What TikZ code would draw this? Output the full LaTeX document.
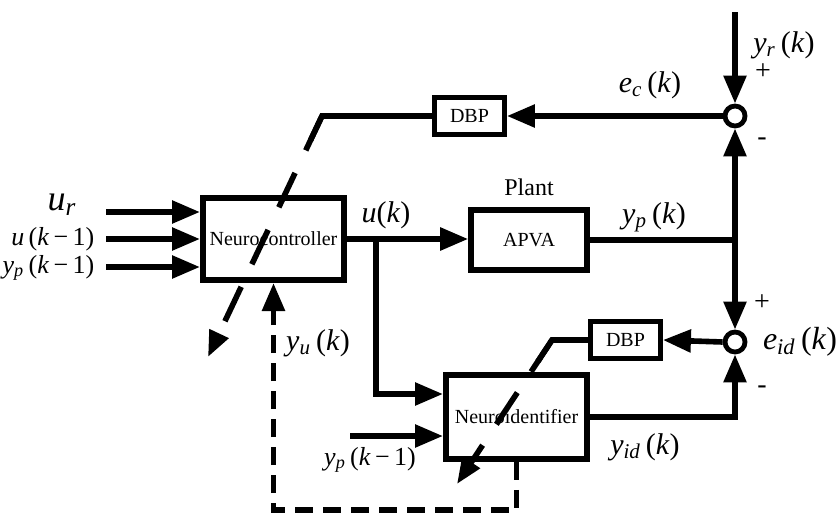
\documentclass[tikz,border=0pt]{standalone}
\usepackage{fontspec}
\setmainfont{Liberation Serif}
\usetikzlibrary{arrows.meta,positioning,calc}

\newcommand{\sg}[2]{\textit{#1}\textsubscript{\textit{#2}}}
\newcommand{\kk}{(\textit{k})}
\newcommand{\km}{(\textit{k}\,−\,1)}

\begin{document}
\begin{tikzpicture}[x=0.5pt, y=-0.5pt, line width=2.8pt,
  >={Triangle[length=14pt,width=11pt]},
  blk/.style={draw, line width=2.8pt, inner sep=0pt, font=\fontsize{10}{12}\selectfont},
  dbp/.style={draw, line width=2.4pt, inner sep=0pt, minimum width=35pt, minimum height=18.5pt, font=\fontsize{10}{12}\selectfont},
  sumpt/.style={circle, draw, line width=2.4pt, minimum size=10pt, inner sep=0pt},
  sig/.style={inner sep=0pt, font=\fontsize{15}{18}\selectfont},
  sigsm/.style={inner sep=0pt, font=\fontsize{13}{15}\selectfont},
  sgn/.style={inner sep=0pt, font=\fontsize{14}{16}\selectfont},
  adapt/.style={dash pattern=on 19pt off 12.5pt, -{Triangle[length=13pt,width=10pt]}},
  fb/.style={dash pattern=on 9pt off 5pt, ->}]
\useasboundingbox (0,0) rectangle (840,514);

% blocks
\node[blk, minimum width=70.7pt, minimum height=41.2pt] (nc) at (273.5,239) {Neurocontroller};
\node[blk, minimum width=58pt, minimum height=30pt] (plant) at (529,240) {APVA};
\node[blk, minimum width=70.7pt, minimum height=42pt] (ni) at (516.5,417) {Neuroidentifier};
\node[dbp] (dbpc) at (469.5,116) {DBP};
\node[dbp] (dbpi) at (625.5,340) {DBP};
\node[sumpt] (sumc) at (735,116) {};
\node[sumpt] (sumi) at (735,342) {};

% labels
\node[inner sep=0pt, font=\fontsize{18}{20}\selectfont] (ur) at (62,205) {\sg{u}{r}};
\node[sigsm, anchor=east] (ukm) at (97,239) {\textit{u}\,\km};
\node[sigsm, anchor=east] (ypkm) at (97,268) {\sg{y}{p}\,\km};
\node[sig] (uk) at (386,215) {\textit{u}\kk};
\node[inner sep=0pt, font=\fontsize{12}{14}\selectfont] (plantlbl) at (529,187) {Plant};
\node[sig] (ypk) at (654,217) {\sg{y}{p}\,\kk};
\node[sig] (eck) at (650,85) {\sg{e}{c}\,\kk};
\node[sig] (yrk) at (784,45) {\sg{y}{r}\,\kk};
\node[sgn] (pc) at (763,72) {+};
\node[sgn] (mc) at (762,142) {-};
\node[sgn] (pi) at (762,303) {+};
\node[sgn] (mi) at (762,390) {-};
\node[inner sep=0pt, font=\fontsize{16}{18}\selectfont] (eidk) at (800,342) {\sg{e}{id}\,\kk};
\node[sig] (yidk) at (645,447) {\sg{y}{id}\,\kk};
\node[sig] (yuk) at (318,343) {\sg{y}{u}\,\kk};
\node[sigsm] (ypkm2) at (370,460) {\sg{y}{p}\,\km};

% inputs
\coordinate (in1) at (106,212);
\coordinate (in2) at (106,239);
\coordinate (in3) at (106,267);
\coordinate (in4) at (350,436);
\draw[->] (in1) -- (nc.west |- in1);
\draw[->] (in2) -- (nc.west |- in2);
\draw[->] (in3) -- (nc.west |- in3);
\draw[->] (in4) -- (ni.west |- in4);

% forward path
\coordinate (br) at (376,239);
\coordinate (jn) at (735,240);
\draw[->] (nc.east) -- (nc.east -| plant.west);
\draw[->] (br) |- ([yshift=11.5pt]ni.west);
\draw (plant.east) -- (jn);
\draw[->] (jn) -- (sumc.south);
\draw[->] (jn) -- (sumi.north);
\coordinate (yr) at (735,12);
\draw[->] (yr) -- (sumc.north);
\draw[->] (ni.east) -| (sumi.south);

% error paths
\draw[->] (sumc.west) -- (dbpc.east);
\draw[->] (sumi.west) -- (dbpi.east);
\coordinate (cc) at (322,116);
\coordinate (tc) at (208,357);
\coordinate (ci) at (552,340);
\coordinate (ti) at (457,484);
\draw (dbpc.west) -- (cc) -- ($(cc)!0.1!(tc)$);
\draw[adapt] (cc) -- (tc);
\draw (dbpi.west) -- (ci) -- ($(ci)!0.15!(ti)$);
\draw[adapt] (ci) -- (ti);

% feedback
\coordinate (fbl) at (273.5,510);
\draw[fb] (ni.south) |- (fbl) -- (nc.south);
\end{tikzpicture}
\end{document}
